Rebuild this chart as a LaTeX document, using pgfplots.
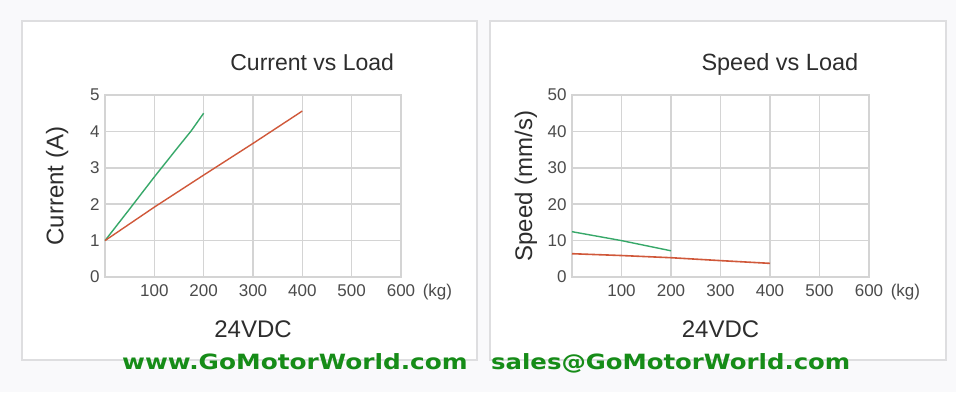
\documentclass[border=0pt]{standalone}
\usepackage{pgfplots}
\pgfplotsset{compat=1.18}
\usepackage{fontspec}
\setmainfont{Liberation Sans}
\newfontfamily\footfont{DejaVu Sans}
\definecolor{bg}{RGB}{249,249,251}
\definecolor{panelc}{RGB}{222,222,224}
\definecolor{gridc}{RGB}{212,212,212}
\definecolor{tickc}{RGB}{75,75,75}
\definecolor{titlec}{RGB}{45,45,45}
\definecolor{lgreen}{RGB}{55,168,105}
\definecolor{lred}{RGB}{208,88,58}
\definecolor{footc}{RGB}{22,140,24}
\pgfplotsset{
  myaxis/.style={
    scale only axis, height=182pt,
    xmin=0, xmax=600,
    xtick={100,200,300,400,500,600},
    xticklabels={100,200,300,400,500,600\rlap{\hspace{0.45em}(kg)}},
    grid=major,
    major grid style={gridc, line width=1.5pt},
    axis line style={gridc, line width=1.5pt},
    major tick length=0pt,
    tick label style={font=\fontsize{17}{17}\selectfont, text=tickc},
    xticklabel style={yshift=-4pt},
    yticklabel style={xshift=-2pt},
    anchor=south west, clip=false,
  }
}
\begin{document}
\begin{tikzpicture}[x=1pt,y=1pt]
\fill[bg] (0,0) rectangle (956,392);
\draw[panelc, line width=1.5pt, fill=white] (22,371) rectangle (477,32);
\draw[panelc, line width=1.5pt, fill=white] (490,371) rectangle (946,32);

\begin{axis}[myaxis, at={(105pt,115pt)}, width=296pt,
  ymin=0, ymax=5, ytick={0,1,2,3,4,5}, yticklabels={0,1,2,3,4,5}]
\addplot[lgreen, line width=1.4pt] coordinates {(0,1) (50,1.87) (100,2.75) (150,3.6) (175,4.02) (200,4.5)};
\addplot[lred, line width=1.4pt] coordinates {(0,1) (100,1.92) (200,2.8) (300,3.67) (400,4.56)};
\node[anchor=base, font=\fontsize{23}{23}\selectfont, text=titlec] at (axis description cs:0.70,1.132) {Current vs Load};
\node[anchor=base, font=\fontsize{24}{24}\selectfont, text=titlec] at (axis description cs:0.5,-0.335) {24VDC};
\node[rotate=90, anchor=center, font=\fontsize{24}{24}\selectfont, text=titlec] at (axis description cs:-0.162,0.5) {Current (A)};
\end{axis}

\begin{axis}[myaxis, at={(572pt,115pt)}, width=297pt,
  ymin=0, ymax=50, ytick={0,10,20,30,40,50}, yticklabels={0,10,20,30,40,50}]
\addplot[lgreen, line width=1.4pt] coordinates {(0,12.45) (100,10.0) (200,7.2)};
\addplot[lred, line width=1.6pt] coordinates {(0,6.4) (100,5.9) (200,5.3) (300,4.5) (400,3.75)};
\node[anchor=base, font=\fontsize{23.5}{23.5}\selectfont, text=titlec] at (axis description cs:0.70,1.132) {Speed vs Load};
\node[anchor=base, font=\fontsize{24}{24}\selectfont, text=titlec] at (axis description cs:0.5,-0.335) {24VDC};
\node[rotate=90, anchor=center, font=\fontsize{24}{24}\selectfont, text=titlec] at (axis description cs:-0.155,0.5) {Speed (mm/s)};
\end{axis}

\node[anchor=base west, inner sep=0pt, text=footc, font=\footfont\bfseries\fontsize{21}{21}\selectfont] at (122,23) {\scalebox{1.18}[1]{www.GoMotorWorld.com}};
\node[anchor=base west, inner sep=0pt, text=footc, font=\footfont\bfseries\fontsize{21}{21}\selectfont] at (491,23) {\scalebox{1.16}[1]{sales@GoMotorWorld.com}};
\end{tikzpicture}
\end{document}
